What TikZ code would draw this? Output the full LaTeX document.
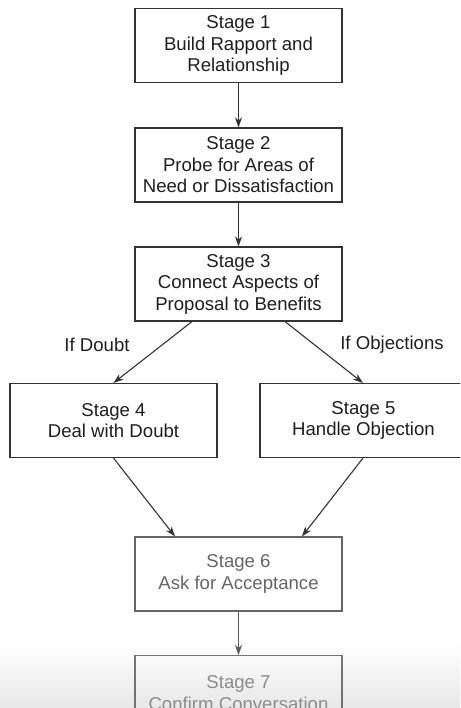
\documentclass[tikz,border=0pt]{standalone}
\usepackage{fontspec}
\setmainfont{Liberation Sans}
\usetikzlibrary{arrows.meta}
\begin{document}
\begin{tikzpicture}[x=1pt,y=-1pt,
  stagebox/.style={draw=black!80, line width=1.1pt, fill=none,
    minimum width=207pt, minimum height=74pt, inner sep=0pt,
    align=center, text=black!88,
    font=\fontsize{18.6}{21.5}\selectfont},
  link/.style={draw=black!80, line width=1.1pt,
    -{Stealth[length=10pt,width=7pt,inset=3pt]}},
  cond/.style={text=black!88, font=\fontsize{18.6}{21.5}\selectfont}]
  % page frame and the grey shadow along the lower edge
  \useasboundingbox (0,0) rectangle (460,708);
  \clip (0,0) rectangle (460,708);
  \fill[white] (0,0) rectangle (460,708);
  \shade[top color=white, bottom color=black!9] (0,640) rectangle (460,708);

  % stages
  \node[stagebox] (s1) at (238.5,45.5) {Stage 1\\Build Rapport and\\Relationship};
  \node[stagebox] (s2) at (238.5,165)  {Stage 2\\Probe for Areas of\\Need or Dissatisfaction};
  \node[stagebox] (s3) at (238.5,284)  {Stage 3\\Connect Aspects of\\Proposal to Benefits};
  \node[stagebox] (s4) at (113.5,420.5) {Stage 4\\Deal with Doubt};
  \node[stagebox] (s5) at (363.5,420.5) {Stage 5\\Handle Objection};
  \node[stagebox, draw=black!60, text=black!60] (s6) at (238.5,574) {Stage 6\\Ask for Acceptance};
  \node[stagebox, draw=black!55, text=black!45, anchor=north,
        minimum height=75pt] (s7) at (238.5,655) {Stage 7\\Confirm Conversation};

  % branch conditions
  \node[cond] (ldoubt) at (97,345) {If Doubt};
  \node[cond] (lobj) at (392,345) {If Objections};

  % connectors
  \draw[link] (s1.south) -- (s2.north);
  \draw[link] (s2.south) -- (s3.north);
  \draw[link] ([xshift=-46.5pt]s3.south) -- (s4.north);
  \draw[link] ([xshift=46.5pt]s3.south) -- ([xshift=-0.5pt]s5.north);
  \draw[link] (s4.south) -- ([xshift=-63.5pt]s6.north);
  \draw[link] ([xshift=-0.5pt]s5.south) -- ([xshift=63.5pt]s6.north);
  \draw[link, draw=black!65] (s6.south) -- (s7.north);
\end{tikzpicture}
\end{document}
